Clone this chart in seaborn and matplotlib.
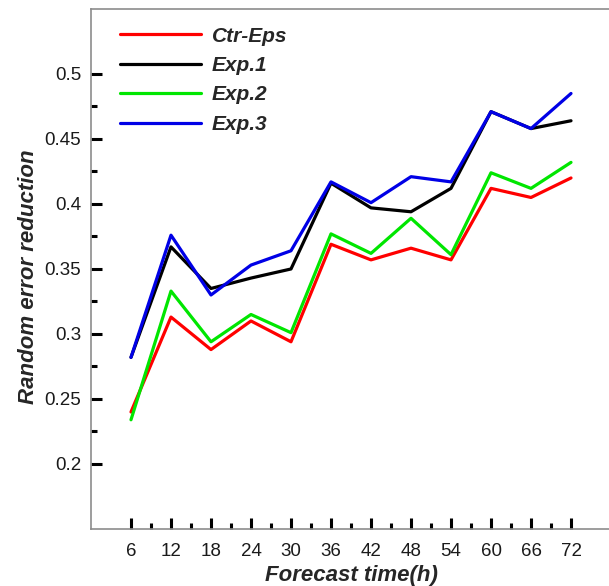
import matplotlib
matplotlib.use("Agg")
import matplotlib.pyplot as plt
from matplotlib.ticker import FixedLocator
import numpy as np
import pandas as pd
import seaborn as sns

# Forecast lead times (hours)
forecast_hours = [6, 12, 18, 24, 30, 36, 42, 48, 54, 60, 66, 72]

# Random error reduction per experiment
ctr_eps = [0.240, 0.313, 0.288, 0.310, 0.294, 0.369, 0.357, 0.366, 0.357, 0.412, 0.405, 0.420]
exp_1 = [0.282, 0.367, 0.335, 0.343, 0.350, 0.416, 0.397, 0.394, 0.412, 0.471, 0.458, 0.464]
exp_2 = [0.234, 0.333, 0.294, 0.315, 0.301, 0.377, 0.362, 0.389, 0.361, 0.424, 0.412, 0.432]
exp_3 = [0.282, 0.376, 0.330, 0.353, 0.364, 0.417, 0.401, 0.421, 0.417, 0.471, 0.458, 0.485]

series_names = ["Ctr-Eps", "Exp.1", "Exp.2", "Exp.3"]
series_values = [ctr_eps, exp_1, exp_2, exp_3]
series_colors = ["#ff0000", "#000000", "#00e600", "#0000e6"]

y_major = [0.2, 0.25, 0.3, 0.35, 0.4, 0.45, 0.5]
y_minor = [0.225, 0.275, 0.325, 0.375, 0.425, 0.475]
x_minor = [9, 15, 21, 27, 33, 39, 45, 51, 57, 63, 69]

df = pd.concat(
    [pd.DataFrame({"hour": forecast_hours, "value": vals, "run": name})
     for name, vals in zip(series_names, series_values)],
    ignore_index=True,
)

sns.set_style("white")
plt.rcParams["font.family"] = ["Liberation Sans", "DejaVu Sans"]

fig = plt.figure(figsize=(6.09, 5.86), dpi=100)
ax = fig.add_axes([0.1494, 0.0973, 0.8539, 0.8874])

sns.lineplot(
    data=df, x="hour", y="value", hue="run",
    hue_order=series_names, palette=dict(zip(series_names, series_colors)),
    linewidth=2.3, legend=False, ax=ax,
)

ax.set_xlim(0, 78)
ax.set_ylim(0.15, 0.55)

ax.xaxis.set_major_locator(FixedLocator(forecast_hours))
ax.xaxis.set_minor_locator(FixedLocator(x_minor))
ax.yaxis.set_major_locator(FixedLocator(y_major))
ax.yaxis.set_minor_locator(FixedLocator(y_minor))
ax.set_yticklabels([f"{v:g}" for v in y_major])

ax.tick_params(axis="both", which="both", bottom=True, left=True, top=False, right=False)
ax.tick_params(axis="both", which="major", direction="in", length=8, width=2.2,
               color="black", labelsize=13.5, labelcolor="#1a1a1a")
ax.tick_params(axis="both", which="minor", direction="in", length=4.5, width=2.2,
               color="black")
ax.tick_params(axis="x", which="major", pad=10)
ax.tick_params(axis="y", which="major", pad=7)

for side, spine in ax.spines.items():
    spine.set_color("#8c8c8c")
    spine.set_linewidth(1.2)
    spine.set_visible(True)

ax.set_xlabel("Forecast time(h)", fontsize=16, fontweight="bold", fontstyle="italic",
              labelpad=4)
ax.set_ylabel("Random error reduction", fontsize=16, fontweight="bold", fontstyle="italic",
              labelpad=4)
ax.yaxis.label.set_y(0.485)

leg = ax.legend(
    handles=ax.lines[:4], labels=series_names,
    loc="upper left", bbox_to_anchor=(0.0558, 0.966), borderaxespad=0, borderpad=0,
    frameon=False, handlelength=3.9, handletextpad=0.5, labelspacing=0.5,
    prop={"size": 15, "weight": "bold", "style": "italic"},
)

fig.savefig("out.png", dpi=100)
